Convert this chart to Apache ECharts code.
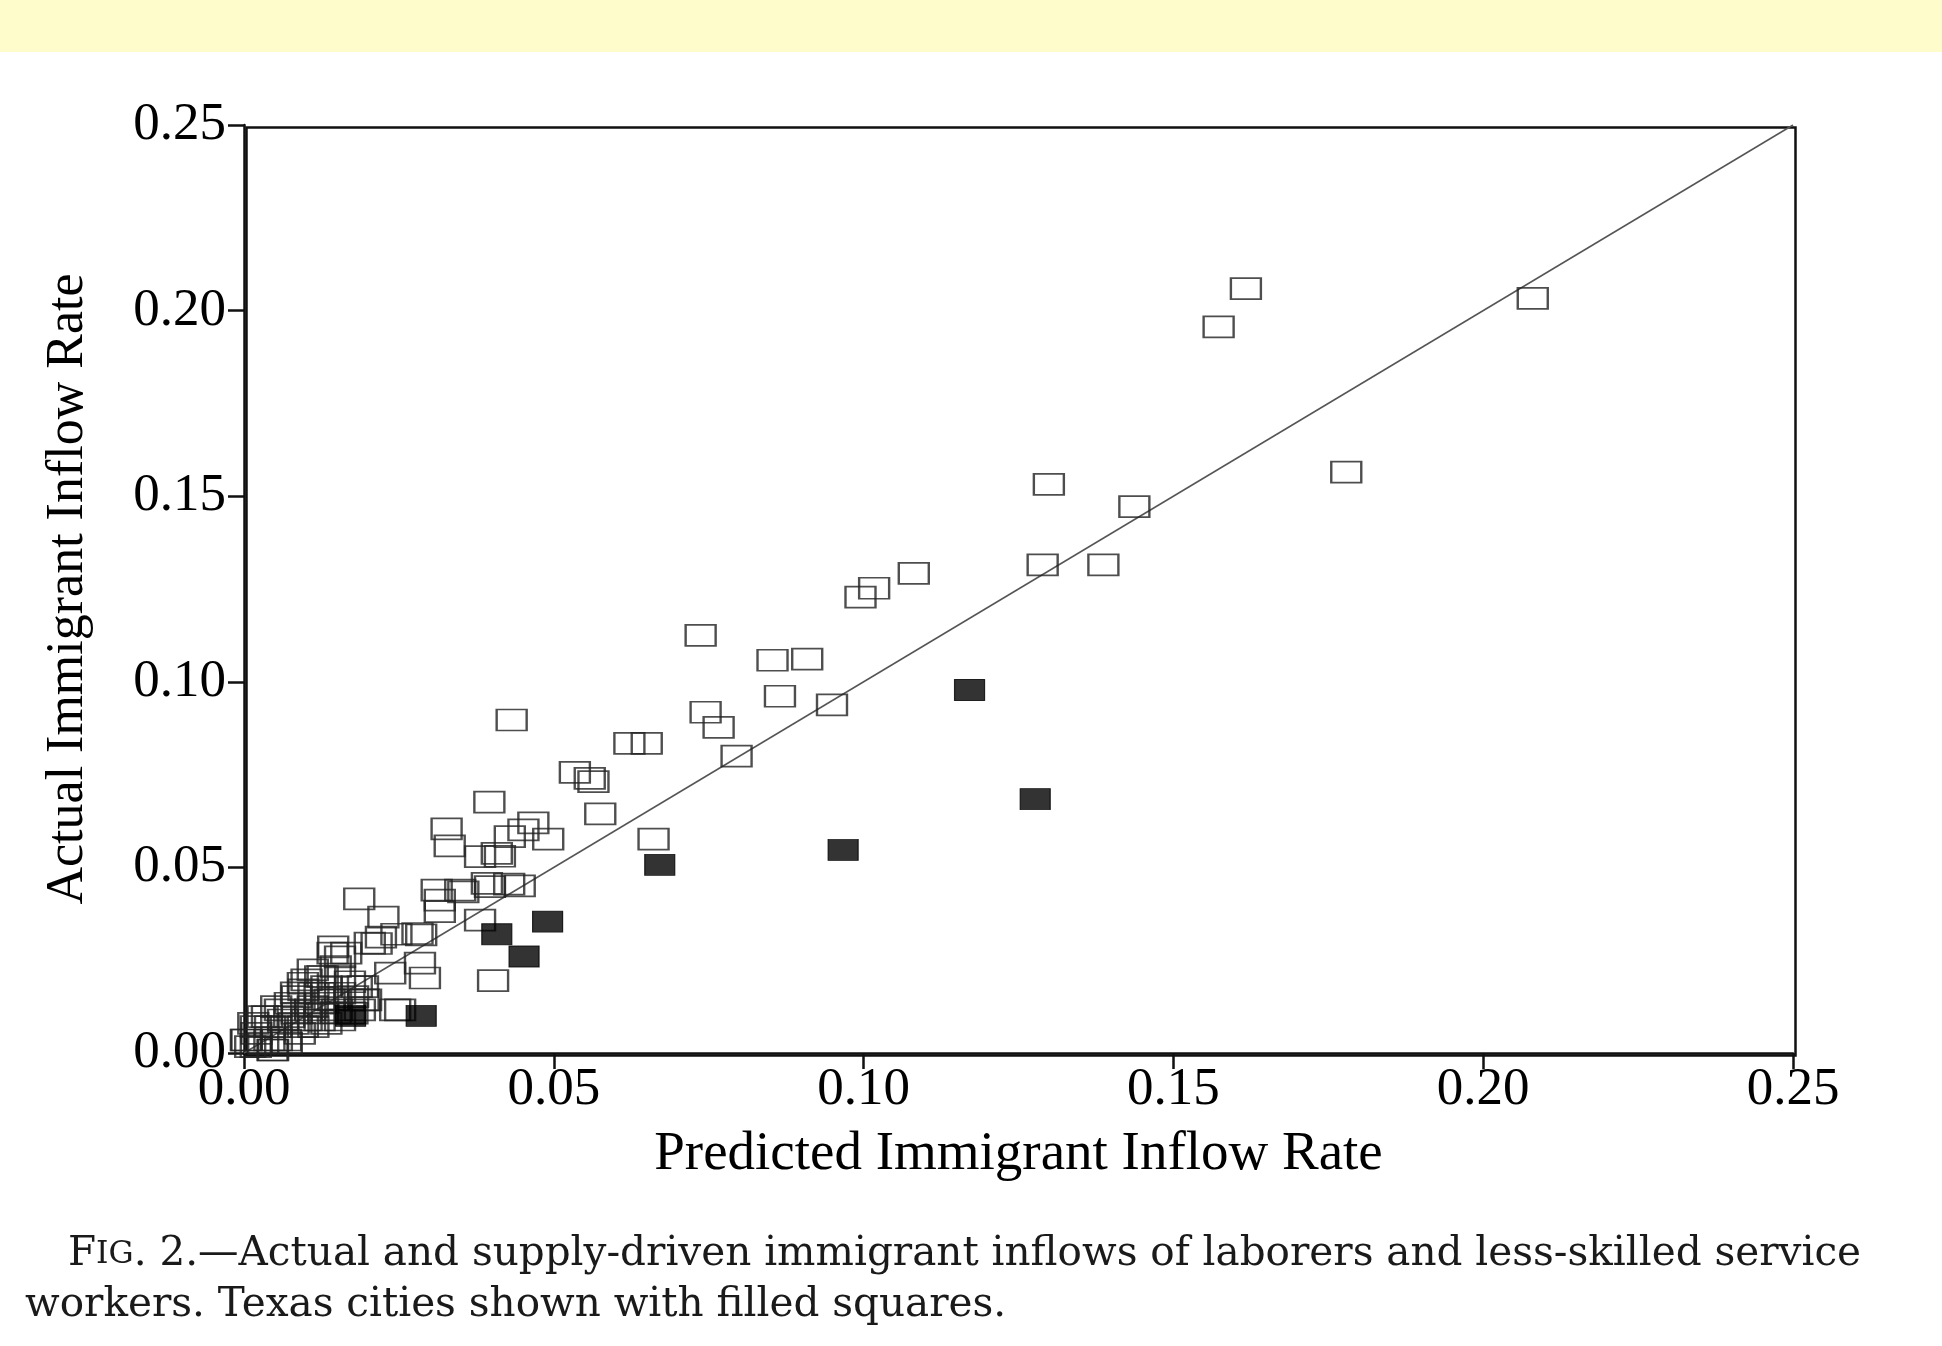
<!DOCTYPE html>
<html>
<head>
<meta charset="utf-8">
<script src="https://cdn.jsdelivr.net/npm/echarts@6/dist/echarts.min.js"></script>
<style>
html,body{margin:0;padding:0;background:#fff;}
#chart{width:1942px;height:1346px;}
</style>
</head>
<body>
<div id="chart"></div>
<script>
// Axis ticks
const tickValues = [0, 0.05, 0.10, 0.15, 0.20, 0.25];
const tickLabels = ['0.00', '0.05', '0.10', '0.15', '0.20', '0.25'];

// Other cities (open squares)
const predictedOther = [
  0.1617, 0.1573, 0.2080, 0.1779, 0.1299, 0.1437, 0.1289, 0.1387, 0.1081, 0.1017, 0.0995,
  0.0737, 0.0853, 0.0909, 0.0865, 0.0949, 0.0745, 0.0766, 0.0432, 0.0622, 0.0650, 0.0795,
  0.0534, 0.0558, 0.0564, 0.0575, 0.0661,
  0.0396, 0.0327, 0.0332, 0.0467, 0.0451, 0.0491, 0.0429, 0.0413, 0.0408, 0.0381, 0.0397,
  0.0392, 0.0428, 0.0445, 0.0311, 0.0349, 0.0316, 0.0316, 0.0354, 0.0381, 0.0402,
  0.0244, 0.0252, 0.0284, 0.0292, 0.0236, 0.0186, 0.0225, 0.0246, 0.0286, 0.0280, 0.0221,
  0.0214, 0.0203, 0.0144, 0.0155,
  0.0010, 0.0031, 0.0053, 0.0020, 0.0042, 0.0063, 0.0085, 0.0107, 0.0128, 0.0150, 0.0171,
  0.0112, 0.0133, 0.0155, 0.0176, 0.0101, 0.0123, 0.0155, 0.0171, 0.0085, 0.0096, 0.0074,
  0.0058, 0.0037, 0.0015, 0.0004, 0.0047, 0.0069, 0.0090, 0.0112, 0.0133, 0.0155, 0.0080,
  0.0101, 0.0123, 0.0144, 0.0187, 0.0193, 0.0182,
  0.0095, 0.0127, 0.0148, 0.0165, 0.0143, 0.0084, 0.0052, 0.0030, 0.0019, 0.0003, 0.0041,
  0.0068, 0.0095, 0.0122, 0.0148, 0.0175, 0.0170, 0.0138, 0.0111, 0.0073, 0.0052, 0.0019,
  0.0046, 0.0192, 0.0197, 0.0111, 0.0122
];
const actualOther = [
  0.2059, 0.1956, 0.2033, 0.1565, 0.1532, 0.1472, 0.1315, 0.1315, 0.1292, 0.1252, 0.1228,
  0.1125, 0.1058, 0.1061, 0.0961, 0.0938, 0.0918, 0.0877, 0.0897, 0.0834, 0.0834, 0.0800,
  0.0756, 0.0740, 0.0731, 0.0644, 0.0576,
  0.0676, 0.0604, 0.0558, 0.0620, 0.0601, 0.0576, 0.0583, 0.0530, 0.0538, 0.0529, 0.0448,
  0.0457, 0.0455, 0.0450, 0.0439, 0.0439, 0.0412, 0.0381, 0.0434, 0.0358, 0.0195,
  0.0116, 0.0116, 0.0242, 0.0202, 0.0215, 0.0415, 0.0366, 0.0320, 0.0318, 0.0322, 0.0312,
  0.0295, 0.0296, 0.0286, 0.0259,
  0.0017, 0.0027, 0.0035, 0.0053, 0.0071, 0.0089, 0.0107, 0.0116, 0.0108, 0.0116, 0.0108,
  0.0161, 0.0179, 0.0161, 0.0152, 0.0197, 0.0206, 0.0206, 0.0192, 0.0152, 0.0170, 0.0134,
  0.0116, 0.0098, 0.0080, 0.0035, 0.0008, 0.0027, 0.0053, 0.0071, 0.0080, 0.0089, 0.0080,
  0.0089, 0.0134, 0.0143, 0.0116, 0.0143, 0.0179,
  0.0188, 0.0206, 0.0233, 0.0269, 0.0269, 0.0162, 0.0125, 0.0098, 0.0071, 0.0035, 0.0035,
  0.0035, 0.0071, 0.0089, 0.0108, 0.0107, 0.0143, 0.0143, 0.0125, 0.0098, 0.0071, 0.0017,
  0.0008, 0.0179, 0.0143, 0.0224, 0.0161
];

// Texas cities (filled squares)
const predictedTexas = [0.1171, 0.1277, 0.0967, 0.0671, 0.0490, 0.0408, 0.0452, 0.0286, 0.0172];
const actualTexas    = [0.0978, 0.0684, 0.0547, 0.0507, 0.0354, 0.0320, 0.0260, 0.0100, 0.0100];

// 45-degree reference line
const lineX = [0, 0.25];
const lineY = [0, 0.25];

const otherData = predictedOther.map((x, i) => [x, actualOther[i]]);
const texasData = predictedTexas.map((x, i) => [x, actualTexas[i]]);
const lineData = lineX.map((x, i) => [x, lineY[i]]);

const serif = '"Liberation Serif", "Times New Roman", serif';
const capSerif = '"DejaVu Serif", serif';
const fmt = v => {
  const idx = tickValues.findIndex(t => Math.abs(t - v) < 1e-9);
  return idx >= 0 ? tickLabels[idx] : '';
};

const chart = echarts.init(document.getElementById('chart'), null, {renderer: 'canvas'});
chart.setOption({
  backgroundColor: '#ffffff',
  animation: false,
  grid: {left: 244, right: 149, top: 125, bottom: 293, show: false},
  xAxis: {
    type: 'value', min: 0, max: 0.25, interval: 0.05,
    name: 'Predicted Immigrant Inflow Rate', nameLocation: 'middle', nameGap: 74,
    nameTextStyle: {fontFamily: serif, fontSize: 55, color: '#000'},
    axisLine: {show: true, onZero: false, lineStyle: {color: '#111', width: 2.5}},
    axisTick: {show: true, inside: false, length: 16, lineStyle: {color: '#111', width: 2.5}},
    axisLabel: {fontFamily: serif, fontSize: 53, color: '#000', margin: 11, formatter: fmt},
    splitLine: {show: false}
  },
  yAxis: {
    type: 'value', min: 0, max: 0.25, interval: 0.05,
    name: 'Actual Immigrant Inflow Rate', nameLocation: 'middle', nameGap: 150,
    nameTextStyle: {fontFamily: serif, fontSize: 52, color: '#000'},
    axisLine: {show: true, onZero: false, lineStyle: {color: '#111', width: 2.5}},
    axisTick: {show: true, inside: false, length: 16, lineStyle: {color: '#111', width: 2.5}},
    axisLabel: {fontFamily: serif, fontSize: 53, color: '#000', margin: 18, formatter: fmt},
    splitLine: {show: false}
  },
  graphic: [
    {type: 'rect', left: 0, top: 0, shape: {width: 1942, height: 52}, style: {fill: '#fffccc'}, z: 0},
    {type: 'rect', left: 244, top: 125, shape: {width: 1549, height: 928}, style: {fill: 'none', stroke: '#111', lineWidth: 2.5}, z: 1},
    {type: 'text', left: 68, top: 1234, z: 5,
      style: {
        text: '{a|F}{b|IG}{a|. 2.—Actual and supply-driven immigrant inflows of laborers and less-skilled service}',
        rich: {
          a: {fontFamily: capSerif, fontSize: 40.5, fill: '#1a1a1a'},
          b: {fontFamily: capSerif, fontSize: 31.5, fill: '#1a1a1a'}
        }
      }},
    {type: 'text', left: 25, top: 1285, z: 5,
      style: {text: 'workers. Texas cities shown with filled squares.', font: '40.5px ' + capSerif, fill: '#1a1a1a'}}
  ],
  series: [
    {type: 'line', data: lineData, showSymbol: false, symbol: 'none',
      lineStyle: {color: '#555', width: 1.5}, z: 2, silent: true},
    {type: 'scatter', data: otherData, symbol: 'rect', symbolSize: [30, 21],
      itemStyle: {color: 'rgba(0,0,0,0)', borderColor: '#222', borderWidth: 2}, z: 3},
    {type: 'scatter', data: texasData, symbol: 'rect', symbolSize: [30, 21],
      itemStyle: {color: '#000', borderColor: '#000', borderWidth: 1}, z: 4}
  ]
});
</script>
</body>
</html>
